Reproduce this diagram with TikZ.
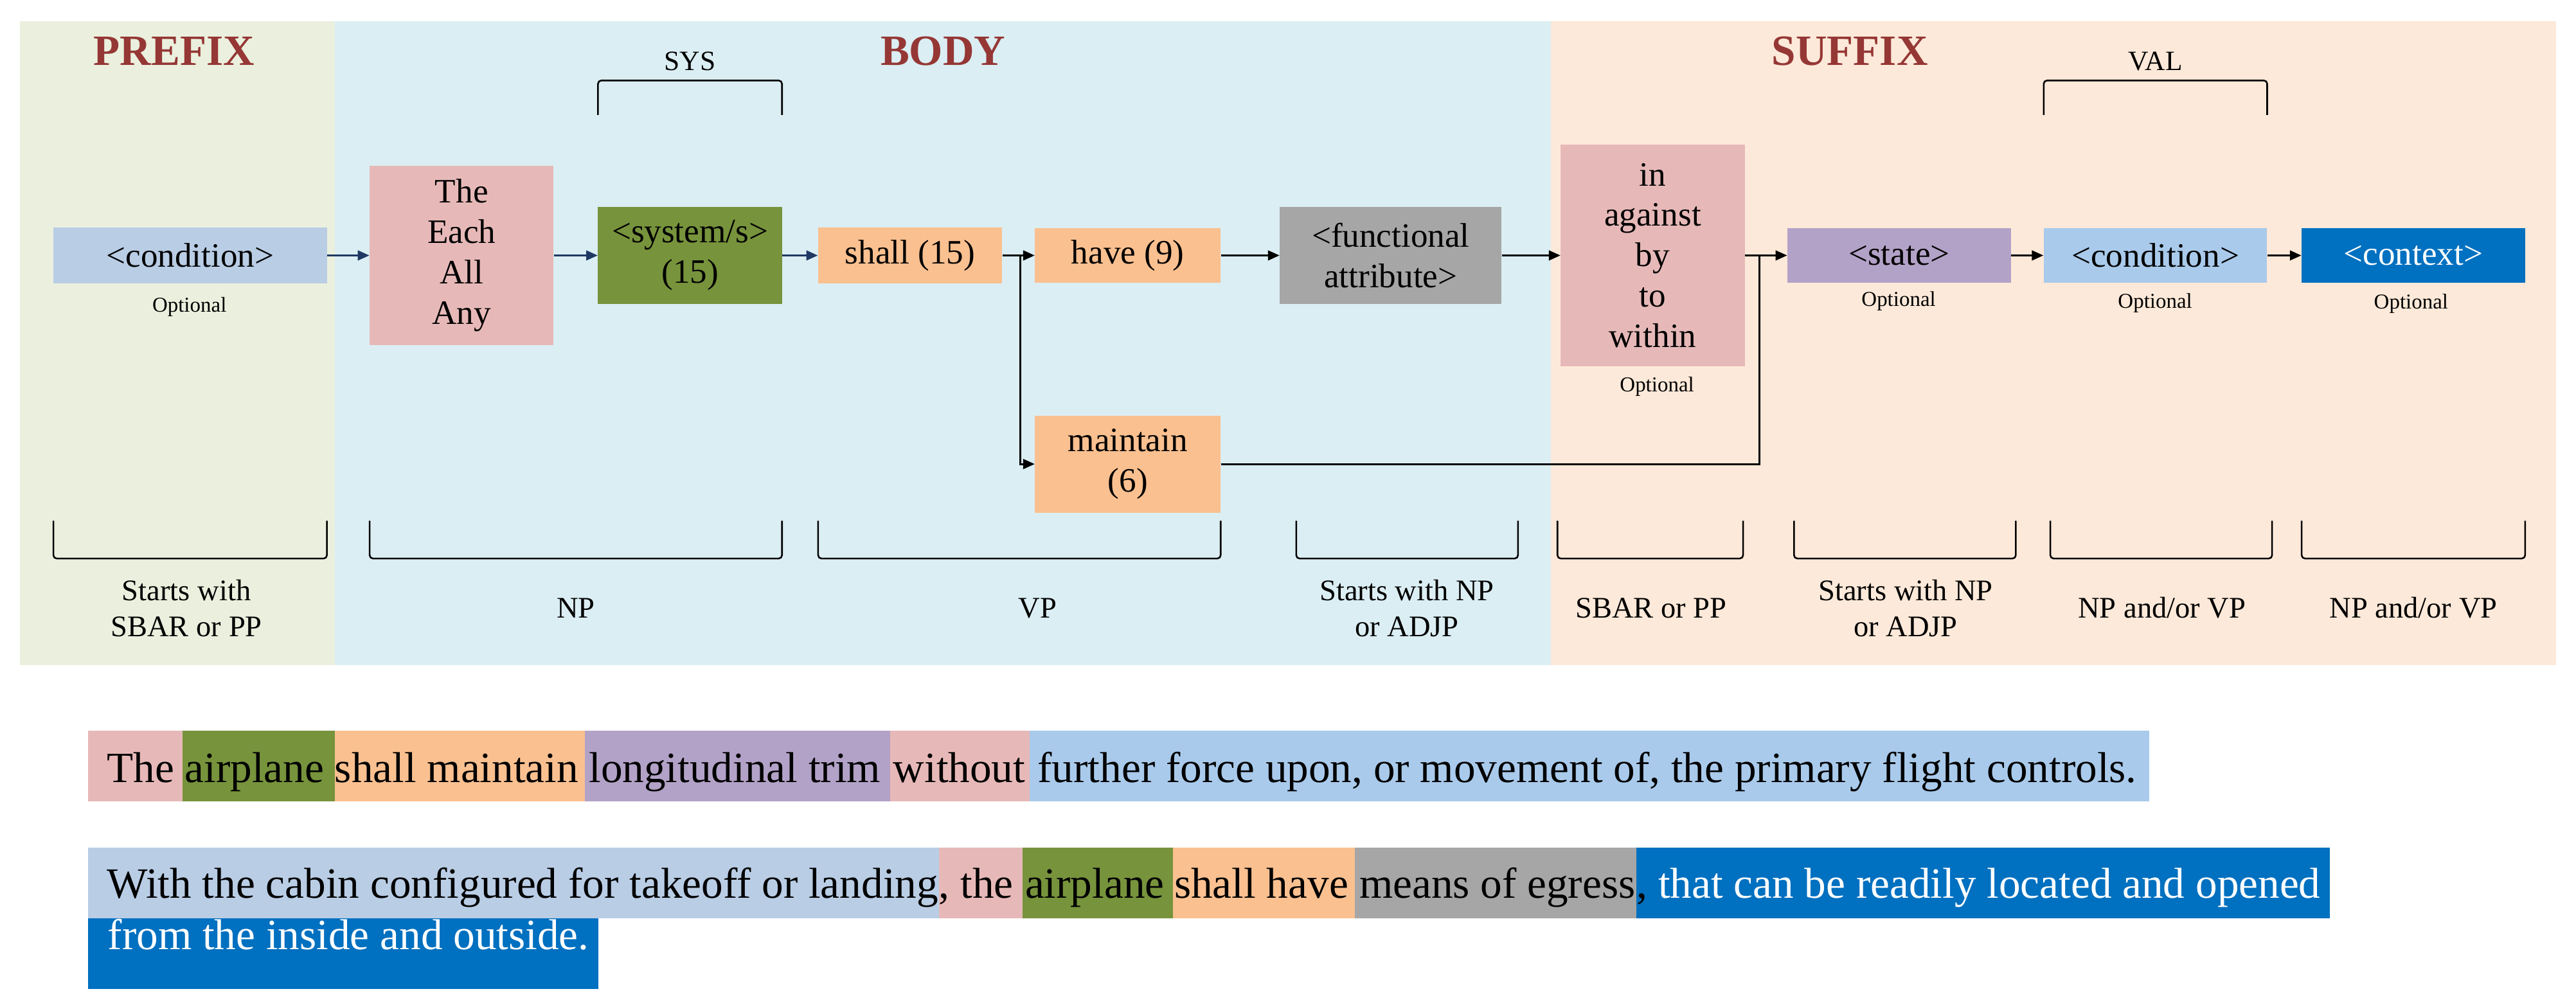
\documentclass[tikz,border=0pt]{standalone}
\usepackage{fontspec}
\setmainfont{Liberation Serif}
\usetikzlibrary{arrows.meta}
\definecolor{bgpre}{HTML}{EBF0DE}
\definecolor{bgbody}{HTML}{DBEEF3}
\definecolor{bgsuf}{HTML}{FDE9D9}
\definecolor{ttl}{HTML}{953735}
\definecolor{cpink}{HTML}{E6B9B8}
\definecolor{cgreen}{HTML}{77933C}
\definecolor{corange}{HTML}{FAC090}
\definecolor{cgray}{HTML}{A6A6A6}
\definecolor{cpurple}{HTML}{B3A2C7}
\definecolor{csteel}{HTML}{B9CDE5}
\definecolor{csky}{HTML}{A9CAEB}
\definecolor{cblue}{HTML}{0070C0}
\definecolor{navy}{HTML}{1F3864}
\newcommand{\sgm}[7]{\node[seg,#1,fill=#3] (#2) at (#4,#6) {\makebox[#5pt][l]{#7}};}
\begin{document}
\begin{tikzpicture}[x=1pt,y=1pt,
  box/.style={rectangle, inner sep=0pt, align=center, font=\fontsize{20.8}{24.6}\selectfont},
  opt/.style={font=\fontsize{12.9}{15}\selectfont, anchor=base, inner sep=0pt},
  ttlstyle/.style={font=\fontsize{26.3}{30}\selectfont\bfseries, text=ttl, anchor=base, inner sep=0pt},
  grp/.style={font=\fontsize{17}{20}\selectfont, anchor=base, inner sep=0pt},
  lab/.style={font=\fontsize{18.2}{22}\selectfont, align=center, inner sep=0pt},
  arr/.style={-{Triangle[length=7pt,width=6pt]}, line width=1.1pt},
  ln/.style={line width=1.1pt},
  brk/.style={line width=1pt, rounded corners=2pt},
  seg/.style={rectangle, inner sep=0pt, anchor=north west, minimum height=43pt, font=\fontsize{26.3}{30}\selectfont},
  rowa/.style={text height=22pt, text depth=2.6pt},
  rowb/.style={text height=21pt, text depth=3.2pt},
  rowc/.style={text height=10pt, text depth=15.2pt}
]
\useasboundingbox (0,0) rectangle (1568,-613);
\fill[white] (0,0) rectangle (1568,-613);
% panels
\fill[bgpre] (12,-13) rectangle (204,-405);
\fill[bgbody] (204,-13) rectangle (944,-405);
\fill[bgsuf] (944,-13) rectangle (1556,-405);
% titles
\node[ttlstyle] (tpre) at (106,-39.8) {PREFIX};
\node[ttlstyle] (tbody) at (574,-39.8) {BODY};
\node[ttlstyle] (tsuf) at (1126,-39.8) {SUFFIX};
% group brackets on top
\node[grp] (gsys) at (420,-43) {SYS};
\node[grp] (gval) at (1312,-43) {VAL};
\draw[brk] (364,-70) -- (364,-49) -- (476,-49) -- (476,-70);
\draw[brk] (1244,-70) -- (1244,-49) -- (1380,-49) -- (1380,-70);
% main nodes
\node[box, fill=csteel, minimum width=166.5pt, minimum height=34pt] (cond1) at (115.75,-155.5) {<condition>};
\node[box, fill=cpink, minimum width=112pt, minimum height=109pt] (theN) at (281,-155.5) {The\\Each\\All\\Any};
\node[box, fill=cgreen, minimum width=112pt, minimum height=59pt] (sys) at (420,-155.5) {<system/s>\\(15)};
\node[box, fill=corange, minimum width=112pt, minimum height=34pt] (shall) at (554,-155.5) {shall (15)};
\node[box, fill=corange, minimum width=113pt, minimum height=33pt] (have) at (686.5,-155.5) {have (9)};
\node[box, fill=cgray, minimum width=135pt, minimum height=59pt] (func) at (846.5,-155.5) {<functional\\attribute>};
\node[box, fill=cpink, minimum width=112pt, minimum height=135pt] (inN) at (1006,-155.5) {in\\against\\by\\to\\within};
\node[box, fill=corange, minimum width=113pt, minimum height=59pt] (maint) at (686.5,-282.5) {maintain\\(6)};
\node[box, fill=cpurple, minimum width=136pt, minimum height=33pt] (state) at (1156,-155.5) {<state>};
\node[box, fill=csky, minimum width=136pt, minimum height=33pt] (cond2) at (1312,-155.5) {<condition>};
\node[box, fill=cblue, text=white, minimum width=136pt, minimum height=33pt] (ctx) at (1469,-155.5) {<context>};
% optional labels
\node[opt] (o1) at (115.3,-190) {Optional};
\node[opt] (oin) at (1008.6,-238.5) {Optional};
\node[opt] (ost) at (1155.7,-186.5) {Optional};
\node[opt] (oc2) at (1311.8,-187.5) {Optional};
\node[opt] (octx) at (1467.6,-188) {Optional};
% connectors
\coordinate (j1) at (621,-155.5);
\coordinate (j2) at (1071,-155.5);
\draw[arr, navy] (cond1.east) -- (theN.west);
\draw[arr, navy] (theN.east) -- (sys.west);
\draw[arr, navy] (sys.east) -- (shall.west);
\draw[arr] (shall.east) -- (have.west);
\draw[arr] (shall.east) -- (j1) |- (maint.west);
\draw[arr] (have.east) -- (func.west);
\draw[arr] (func.east) -- (inN.west);
\draw[arr] (inN.east) -- (state.west);
\draw[ln] (maint.east) -| (j2);
\draw[arr] (state.east) -- (cond2.west);
\draw[arr] (cond2.east) -- (ctx.west);
% bottom brackets
\foreach \a/\b in {32.5/199, 225/476, 498/743, 789/924, 948/1061, 1092/1227, 1248/1383, 1401/1537}
  \draw[brk] (\a,-317) -- (\a,-340) -- (\b,-340) -- (\b,-317);
\node[lab, anchor=north] (l1) at (113.5,-352.6) {Starts with\\SBAR or PP};
\node[lab, anchor=base] (l2) at (350.5,-376) {NP};
\node[lab, anchor=base] (l3) at (631.6,-376) {VP};
\node[lab, anchor=north] (l4) at (856.4,-352.6) {Starts with NP\\or ADJP};
\node[lab, anchor=base] (l5) at (1005,-376) {SBAR or PP};
\node[lab, anchor=north] (l6) at (1160,-352.6) {Starts with NP\\or ADJP};
\node[lab, anchor=base] (l7) at (1316,-376) {NP and/or VP};
\node[lab, anchor=base] (l8) at (1469,-376) {NP and/or VP};
% example sentence 1
\sgm{rowa}{s11}{cpink}{53.4}{57.4}{-444.8}{\hspace*{11.5pt}The}
\sgm{rowa}{s12}{cgreen}{110.8}{92.8}{-444.8}{\hspace*{1.5pt}airplane}
\sgm{rowa}{s13}{corange}{203.6}{152.2}{-444.8}{shall maintain}
\sgm{rowa}{s14}{cpurple}{355.8}{185.7}{-444.8}{\hspace*{2.5pt}longitudinal trim}
\sgm{rowa}{s15}{cpink}{541.5}{84.9}{-444.8}{\hspace*{2pt}without}
\sgm{rowa}{s16}{csky}{626.4}{681.6}{-444.8}{\hspace*{5pt}further force upon, or movement of, the primary flight controls.}
% example sentence 2
\sgm{rowb}{s21}{csteel}{53.4}{517.9}{-516}{\hspace*{11.5pt}With the cabin configured for takeoff or landing}
\sgm{rowb}{s22}{cpink}{571.3}{51}{-516}{, the}
\sgm{rowb}{s23}{cgreen}{622.3}{91.3}{-516}{\hspace*{1.5pt}airplane}
\sgm{rowb}{s24}{corange}{713.6}{110.7}{-516}{\hspace*{1pt}shall have}
\sgm{rowb}{s25}{cgray}{824.3}{171.7}{-516}{\hspace*{3pt}means of egress}
\sgm{rowb,text=white}{s26}{cblue}{996}{422}{-516}{{\color{black},} that can be readily located and opened}
\sgm{rowc,text=white}{s31}{cblue}{53.4}{310.6}{-558.8}{\hspace*{12pt}from the inside and outside.}
\end{tikzpicture}
\end{document}
